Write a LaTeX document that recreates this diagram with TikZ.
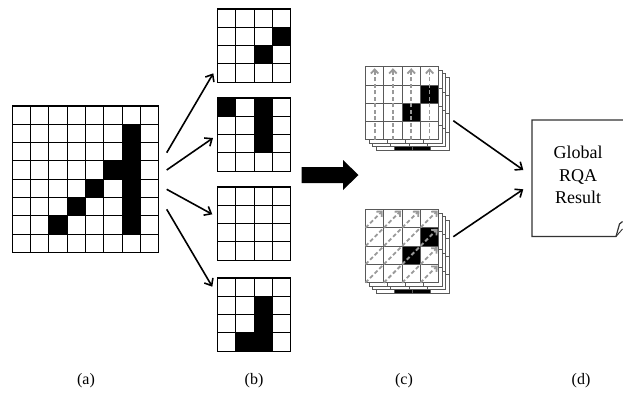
\documentclass[tikz,border=0pt]{standalone}
\usepackage{fontspec}
\setmainfont{Liberation Serif}
\usetikzlibrary{arrows.meta}

\newcommand\cellsz{18.3}
% grid of named cells: name, x, y, size, style
\newcommand\cellgrid[5]{%
  \foreach \r in {1,...,#4}
    \foreach \c in {1,...,#4}
      \node[#5] (#1-\r-\c) at ({#2+(\c-1)*\cellsz},{#3+(\r-1)*\cellsz}) {};
}
% black cells: x, y, list of row/col
\newcommand\blackcells[3]{%
  \foreach \r/\c in {#3}
    \fill ({#1+(\c-1)*\cellsz},{#2+(\r-1)*\cellsz}) rectangle ++(\cellsz,\cellsz);
}
\newcommand\whiteback[2]{%
  \fill[white] (#1,#2) rectangle ++({4*\cellsz},{4*\cellsz});
}

\begin{document}
\begin{tikzpicture}[x=1pt,y=-1pt,
  cell/.style={draw, line width=1.1pt, minimum size=\cellsz pt, inner sep=0pt, outer sep=0pt, anchor=north west},
  scell/.style={cell, draw=black!65, line width=0.9pt},
  arr/.style={-{Straight Barb[length=6pt,width=10pt]}, line width=1.6pt},
  scan/.style={-{Straight Barb[length=4pt,width=7.5pt]}, draw=black!40, line width=1.8pt, dash pattern=on 4pt off 2.5pt, shorten >=1.5pt},
  lbl/.style={font=\fontsize{16}{19}\selectfont}]
  \useasboundingbox (0,0) rectangle (623,392);

  % (a)
  \blackcells{12.3}{106}{2/7,3/7,4/7,5/7,6/7,7/7,4/6,5/5,6/4,7/3}
  \cellgrid{a}{12.3}{106}{8}{cell}

  % (b)
  \blackcells{217.5}{9}{2/4,3/3}
  \cellgrid{b1}{217.5}{9}{4}{cell}
  \blackcells{217.5}{98}{1/1,1/3,2/3,3/3}
  \cellgrid{b2}{217.5}{98}{4}{cell}
  \cellgrid{b3}{217.5}{187}{4}{cell}
  \blackcells{217.5}{278}{2/3,3/3,4/3,4/2}
  \cellgrid{b4}{217.5}{278}{4}{cell}

  \coordinate (s1) at (166.7,152.7);
  \coordinate (s2) at (166.7,170);
  \coordinate (s3) at (166.7,189.3);
  \coordinate (s4) at (166.7,209.3);
  \coordinate (e1) at (213.3,73.3);
  \coordinate (e2) at (213,138);
  \coordinate (e3) at (212.3,214.3);
  \coordinate (e4) at (212.3,286.7);
  \foreach \i in {1,...,4}
    \draw[arr] (s\i) -- (e\i);

  \fill (301.5,167) -- (343,167) -- (343,160) -- (358.5,175) -- (343,190) -- (343,183) -- (301.5,183) -- cycle;

  % (c) upper stack
  \whiteback{376}{77.2}
  \blackcells{376}{77.2}{2/3,3/3,4/3,4/2}
  \cellgrid{u3}{376}{77.2}{4}{scell}
  \whiteback{372.5}{73.7}
  \cellgrid{u2}{372.5}{73.7}{4}{scell}
  \whiteback{369}{70.2}
  \blackcells{369}{70.2}{1/1,1/3,2/3,3/3}
  \cellgrid{u1}{369}{70.2}{4}{scell}
  \whiteback{365.5}{66.7}
  \blackcells{365.5}{66.7}{2/4,3/3}
  \cellgrid{u0}{365.5}{66.7}{4}{scell}
  \foreach \c in {1,...,4}
    \draw[scan] (u0-4-\c.south) -- (u0-1-\c.north);

  % (c) lower stack
  \whiteback{376}{220}
  \blackcells{376}{220}{2/3,3/3,4/3,4/2}
  \cellgrid{l3}{376}{220}{4}{scell}
  \whiteback{372.5}{216.5}
  \cellgrid{l2}{372.5}{216.5}{4}{scell}
  \whiteback{369}{213}
  \blackcells{369}{213}{1/1,1/3,2/3,3/3}
  \cellgrid{l1}{369}{213}{4}{scell}
  \whiteback{365.5}{209.5}
  \blackcells{365.5}{209.5}{2/4,3/3}
  \cellgrid{l0}{365.5}{209.5}{4}{scell}
  \foreach \j in {1,...,4}
    \draw[scan] (l0-\j-1.south west) -- (l0-1-\j.north east);
  \foreach \i in {2,3,4}
    \draw[scan] (l0-4-\i.south west) -- (l0-\i-4.north east);

  % (d)
  \draw[line width=1.2pt, draw=black!80] (626,120) -- (532,120) -- (532,236.5) -- (616,236.5)
    -- (619.5,224) -- (622.5,221.5);
  \draw[line width=0.9pt, draw=black!80] (616,236.5) -- (622.5,229);
  \node[align=center, font=\fontsize{18}{22.5}\selectfont] (res) at (578,175) {Global\\RQA\\Result};

  \coordinate (c1) at (453.3,120.7);
  \coordinate (c2) at (453.3,236.7);
  \coordinate (d1) at (523.3,170);
  \coordinate (d2) at (523.3,189.3);
  \draw[arr] (c1) -- (d1);
  \draw[arr] (c2) -- (d2);

  \node[lbl] (la) at (86,381) {(a)};
  \node[lbl] (lb) at (254,381) {(b)};
  \node[lbl] (lc) at (404,381) {(c)};
  \node[lbl] (ld) at (581,381) {(d)};
\end{tikzpicture}
\end{document}
